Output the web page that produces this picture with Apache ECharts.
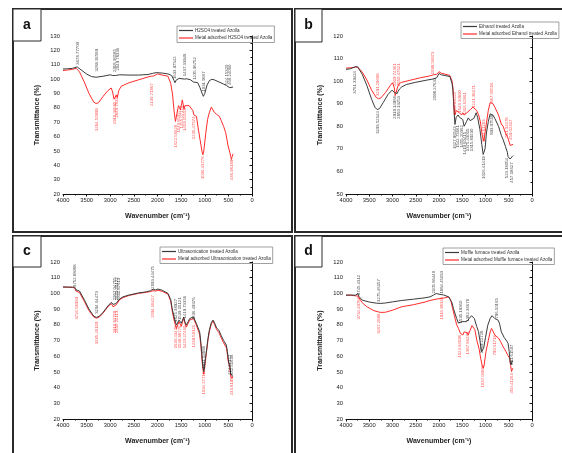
<!DOCTYPE html>
<html lang="en">
<head>
<meta charset="UTF-8">
<title>FTIR Azolla</title>
<script src="https://cdn.jsdelivr.net/npm/echarts@6/dist/echarts.min.js"></script>
<style>
  html, body { margin: 0; padding: 0; background: #fff; }
  #main { width: 562px; height: 453px; }
</style>
</head>
<body>
<div id="main"></div>
<script>
// spectra: [wavenumber, transmittance]
var aBlack = [[4000,107],[3900,107.2],[3800,107.5],[3700,108.5],[3680,108.7],[3620,106.5],[3500,103.5],[3400,101.8],[3300,101.3],[3150,102],[3000,103],[2950,102.5],[2920,101.5],[2890,102.5],[2850,101.8],[2800,103],[2600,102.8],[2400,102.8],[2200,103.2],[2100,104],[2030,104.5],[1900,104.2],[1780,103.6],[1700,102.5],[1650,99],[1630,97.5],[1600,99.5],[1540,100.5],[1500,99.5],[1430,100],[1380,100.2],[1300,99.5],[1240,98],[1200,99],[1150,97.5],[1100,94],[1050,89.5],[1030,88],[1000,90],[950,96],[900,99],[850,99.8],[800,99.5],[700,98],[600,96.5],[540,95.5],[520,94.5],[500,95.5],[470,94],[450,95],[430,94],[400,94.5]];
var aRed = [[4000,106],[3900,106.3],[3800,106.8],[3720,107.5],[3650,105],[3550,98],[3450,90],[3350,84],[3300,83],[3250,83.5],[3150,88],[3050,92],[2980,93.8],[2950,91],[2920,86],[2890,85.5],[2870,89],[2850,87],[2820,92],[2770,95],[2600,97.5],[2400,99.5],[2200,101.5],[2130,102],[2110,101.3],[2080,102.2],[2000,103.6],[1900,102.8],[1780,102],[1720,97],[1680,89],[1650,78],[1620,70.5],[1590,76],[1555,81.5],[1530,80],[1515,78.5],[1490,83],[1475,85.5],[1455,82],[1440,79],[1420,81.5],[1390,81.5],[1330,81.5],[1290,81],[1250,78],[1230,75],[1200,75.5],[1175,74],[1140,66],[1100,58],[1060,50],[1040,47.3],[1020,50],[980,62],[940,72],[900,77],[860,80.5],[830,79.5],[800,77],[750,75.5],[690,74],[650,71],[600,67],[560,63],[530,58],[510,54],[490,53.5],[470,49],[450,46],[437,44],[420,46],[400,48]];

var bBlack = [[4000,105.2],[3900,105.5],[3800,106.4],[3750,106.3],[3650,103],[3550,98],[3450,92],[3380,88.5],[3330,87.4],[3280,87.8],[3200,90.5],[3100,94],[3010,96],[2960,95],[2930,94.8],[2900,94.5],[2880,95.5],[2850,96.5],[2800,97.5],[2700,98.5],[2500,99.5],[2300,100.3],[2120,101],[2050,101.5],[2000,103.4],[1950,102.8],[1850,102.4],[1765,102],[1720,99],[1700,96],[1680,88],[1657,80.8],[1630,84],[1590,85],[1560,84],[1520,84.5],[1490,83],[1460,80],[1443,79.3],[1410,82],[1370,83.7],[1330,82.5],[1300,82.2],[1250,83.5],[1200,86],[1170,84],[1120,78.6],[1080,72],[1050,67.5],[1036,66.7],[1010,70],[980,77],[940,82],[900,85.5],[871,86],[840,85],[800,83.5],[764,83],[720,80],[660,76],[620,74],[570,71],[530,68.5],[514,66.5],[490,66],[470,65.5],[450,65],[430,66.5],[407,67]];
var bRed = [[4000,105.8],[3900,105.9],[3800,106.2],[3750,106.3],[3650,104],[3550,100.5],[3450,96],[3350,92.8],[3300,92.2],[3250,92.6],[3150,95],[3050,98],[3000,99.3],[2960,97],[2943,93.6],[2920,95],[2890,97.5],[2850,99],[2800,99.5],[2600,100.5],[2400,101.5],[2200,102.3],[2120,102.8],[2050,103],[2000,104.2],[1950,103.5],[1850,103],[1765,102.5],[1720,100],[1700,97],[1680,90],[1657,85],[1630,87],[1590,87.4],[1560,86],[1514,85],[1490,86],[1460,85],[1443,84.5],[1400,86],[1371,86.3],[1320,87.5],[1270,88.5],[1229,89.2],[1190,87],[1150,85.2],[1110,82],[1070,76],[1036,73.4],[1010,77],[979,81.5],[940,87],[900,90.5],[871,91],[840,90],[800,88.5],[764,88],[720,85],[660,81],[621,80],[570,77],[530,75.5],[514,74.9],[490,73],[470,71.5],[450,71],[430,71.5],[407,72]];

var cBlack = [[4000,104.1],[3900,104],[3800,104],[3753,104],[3726,102.3],[3700,103],[3650,101.5],[3550,96],[3450,90],[3350,85.5],[3294,84.7],[3230,85.5],[3150,88],[3050,92],[2977,94.3],[2940,93],[2910,92.1],[2880,93.5],[2850,94],[2800,96.5],[2730,97.8],[2600,99],[2400,100.3],[2236,101],[2150,101.7],[2095,102.7],[2040,102.2],[1990,102.8],[1900,102],[1778,100],[1720,96],[1690,90.4],[1650,85],[1600,79.8],[1570,81],[1545,83],[1520,82],[1495,81],[1470,83],[1445,85],[1420,82],[1390,79.8],[1350,82],[1320,84],[1280,84.5],[1240,85],[1213,85],[1180,81],[1140,78],[1108,75.6],[1080,68],[1050,57],[1023,50.2],[1000,55],[970,62],[931,71.4],[900,77],[860,81.5],[825,83],[790,81],[750,78],[700,76.5],[650,73],[600,70],[543,67.1],[520,63],[505,58.7],[490,56],[473,54.5],[450,49],[437,48],[420,47.5],[400,47]];
var cRed = [[4000,104],[3900,104],[3800,103.8],[3753,103.5],[3726,101.5],[3700,102.5],[3650,100.5],[3550,95],[3450,89],[3350,85],[3294,84.2],[3230,85],[3150,87.5],[3050,91.5],[2977,93.5],[2940,91.5],[2910,90.5],[2880,92.5],[2850,93.5],[2800,96],[2730,97.3],[2600,98.7],[2400,100],[2236,100.7],[2150,101.2],[2095,101.7],[2040,101.5],[1990,102],[1900,101.3],[1778,99.5],[1720,95],[1690,89],[1650,83],[1600,77.5],[1570,80],[1545,82],[1520,80.5],[1495,79],[1470,82],[1445,84],[1420,81],[1390,78.5],[1350,81],[1320,83],[1280,84],[1240,84],[1213,83.5],[1180,80],[1140,76.5],[1108,74],[1080,66],[1050,55],[1023,48.5],[1000,53],[970,61],[931,70.5],[900,76],[860,80.5],[825,82.5],[790,80],[750,77],[700,75],[650,71.5],[600,68.5],[543,65.5],[520,61],[505,57],[490,55],[473,53],[450,47.5],[437,46],[420,46.5],[400,46.5]];

var dBlack = [[4000,98.9],[3900,99],[3800,98.8],[3745,99.9],[3720,98],[3650,95.7],[3500,94.5],[3350,93.8],[3264,93.6],[3150,93.9],[3000,94.6],[2800,95.5],[2550,96.3],[2300,97.2],[2193,97.8],[2120,98.9],[2060,99.9],[2000,99.5],[1960,100],[1900,99],[1793,97.8],[1720,94],[1690,90.4],[1620,84],[1580,81],[1550,79.8],[1520,82],[1490,83],[1460,82],[1430,81.5],[1407,82],[1350,84],[1300,85.8],[1279,86.2],[1240,84],[1190,79],[1150,75.6],[1120,70],[1086,62.9],[1060,64],[1040,65],[1000,72],[950,79.8],[900,84],[860,85.8],[836,86.2],[800,84],[760,83],[730,83],[700,81],[660,75.6],[600,72],[540,69.5],[514,68.2],[490,63],[470,56],[450,54.5],[430,57],[407,56.6]];
var dRed = [[4000,98.9],[3900,98.8],[3800,98.5],[3745,98.3],[3720,97.2],[3650,94],[3550,91.5],[3400,89],[3264,87.9],[3150,88],[3000,89.3],[2800,91.5],[2550,92.8],[2300,94.5],[2193,95.5],[2050,96.4],[1900,97],[1793,97.8],[1750,96],[1690,88.3],[1620,80],[1580,77.7],[1540,74.5],[1486,73.5],[1460,75.5],[1430,76],[1400,75],[1371,73.5],[1330,76.5],[1290,79.5],[1264,79.8],[1230,77],[1180,69.3],[1140,65],[1100,58],[1070,54],[1050,52.3],[1030,54],[990,62.9],[940,70],[900,75.5],[871,77.7],[840,76],[800,73.5],[760,72.4],[720,71.5],[680,69.5],[620,66],[560,63],[520,60.5],[479,58.7],[460,54],[440,50.2],[420,52],[407,52.5]];

// peak annotations: [wavenumber, anchor transmittance, text]
var aBlackPeaks = [[3678,110,'3678.77709'],[3288,105.2,'3288.92589'],[2905,105,'2918.36585'],[2835,106,'2849.78336'],[1633,100,'1633.97542'],[1425,102,'1437.33948'],[1213,99.5,'1235.96752'],[1023,91.3,'1031.9667'],[540,96,'524.15320'],[470,96,'468.24060']];
var aRedPeaks = [[3290,79.7,'3284.50999'],[2905,84.4,'2918.36585'],[2860,89,'2849.78336'],[2130,97,'2130.71867'],[1620,68.2,'1622.56628'],[1552,78.6,'1540.85927'],[1488,81.4,'1455.07174'],[1425,79.7,'1419.15553'],[1235,74,'1235.47574'],[1044,46.2,'1036.43778'],[430,43.8,'436.96189']];

var bBlackPeaks = [[3821,104.5,'3761.39424'],[3314,86.7,'3293.52144'],[2943,93.4,'2919.14968'],[2871,93.4,'2850.13253'],[2086,101.5,'2098.27633'],[1650,80,'1627.96543'],[1586,80.5,'1542.73661'],[1514,80.5,'1455.20362'],[1443,77.5,'1419.60415'],[1371,79,'1375.43015'],[1300,79,'1315.89230'],[1036,66.7,'1026.41419'],[871,85.2,'893.97518'],[550,66,'523.18054'],[443,64,'457.18627']];
var bRedPeaks = [[3314,93.4,'3291.29688'],[2943,97.8,'2919.74361'],[2871,97.8,'2850.47621'],[2130,103,'2099.56873'],[1650,85,'1629.83553'],[1543,86,'1543.30890'],[1443,85,'1416.62861'],[1243,88.2,'1241.38171'],[1036,73,'1031.61283'],[864,90.4,'887.06556'],[550,75,'551.32478'],[457,74,'459.02317']];

var cBlackPeaks = [[3753,104.1,'3752.88088'],[3288,87,'3294.64473'],[2906,95.7,'2917.04755'],[2857,95.7,'2849.40122'],[2815,95.7,'2811.87613'],[2095,103,'2093.44475'],[1622,82,'1625.38927'],[1531,83,'1539.15121'],[1425,84,'1419.73356'],[1228,83,'1236.49376'],[1023,52,'1031.04888'],[473,48,'474.37127'],[423,48,'432.51638']];
var cRedPeaks = [[3703,97.8,'3726.58939'],[3288,82,'3285.40109'],[2906,89,'2918.83758'],[2857,89,'2850.24113'],[2095,98.9,'2094.68427'],[1622,79.5,'1630.43471'],[1531,79.5,'1538.88776'],[1425,79.5,'1420.27460'],[1228,80,'1239.50121'],[1023,50,'1034.27712'],[430,48,'433.81957']];

var dBlackPeaks = [[3714,98.9,'3745.4312'],[3300,94.6,'3275.46157'],[2107,99.9,'2105.86440'],[1929,99.9,'1884.45033'],[1529,80.9,'1535.19360'],[1371,82,'1382.36678'],[1086,61.9,'1059.22728'],[764,84,'796.10165'],[443,54.5,'431.61507']];
var dRedPeaks = [[3714,97.8,'3734.49786'],[3300,87.2,'3267.2888'],[1929,97.8,'1916.98336'],[1550,73.5,'1523.66598'],[1386,75.6,'1387.86288'],[1050,54.5,'1037.03862'],[800,73.5,'790.61718'],[436,49.2,'450.41263']];

var panelLetters = ['a', 'b', 'c', 'd'];
var blackNames = ['H2SO4 treated Azolla', 'Ethanol treated Azolla', 'Ultrasonication treated Azolla', 'Muffle furnace treated Azolla'];
var redNames = ['Metal adsorbed H2SO4 treated Azolla', 'Metal adsorbed Ethanol treated Azolla', 'Metal adsorbed Ultrasonication treated Azolla', 'Metal adsorbed Muffle furnace treated Azolla'];
var yMins = [20, 50, 20, 20];
var yMaxs = [130, 120, 120, 120];

var BLACK = '#3b3b3b', RED = '#ff2b2b';
var FONT = 'Arial, "Liberation Sans", sans-serif';

var grids = [
    {left: 63, top: 36, width: 189, height: 158},
    {left: 346, top: 36, width: 186, height: 158},
    {left: 63, top: 262, width: 189, height: 157},
    {left: 346, top: 262, width: 186, height: 157}
];
var legendPos = [[177, 26], [461, 22], [160, 247], [443, 248]];
var frames = [[13, 9, 279, 223], [295, 9, 275, 223], [13, 236, 279, 230], [295, 236, 275, 230]];
var letterBoxes = [[13, 9, 28, 32], [295, 9, 27, 33], [13, 236, 28, 31], [295, 236, 27, 31]];

var allBlack = [aBlack, bBlack, cBlack, dBlack];
var allRed = [aRed, bRed, cRed, dRed];
var allBlackPeaks = [aBlackPeaks, bBlackPeaks, cBlackPeaks, dBlackPeaks];
var allRedPeaks = [aRedPeaks, bRedPeaks, cRedPeaks, dRedPeaks];
// panel b has red labels above and black below, the others the other way
var blackAbove = [true, false, true, true];

var myChart = echarts.init(document.getElementById('main'), null, {renderer: 'canvas'});

var xAxes = [], yAxes = [], series = [], legends = [], graphics = [];

function peakSeries(i, peaks, color, above) {
    return {
        type: 'scatter',
        xAxisIndex: i,
        yAxisIndex: i,
        symbolSize: 0,
        silent: true,
        z: 5,
        data: peaks.map(function (p) { return {value: [p[0], p[1]], name: p[2]}; }),
        label: {
            show: true,
            position: 'inside',
            rotate: 90,
            align: above ? 'left' : 'right',
            verticalAlign: 'middle',
            formatter: '{b}',
            fontSize: 4.3,
            fontFamily: FONT,
            color: color
        }
    };
}

for (var i = 0; i < 4; i++) {
    xAxes.push({
        gridIndex: i,
        type: 'value',
        inverse: true,
        min: 0,
        max: 4000,
        interval: 500,
        name: 'Wavenumber (cm\u207B\u00B9)',
        nameLocation: 'middle',
        nameGap: 19,
        nameTextStyle: {fontSize: 7, fontWeight: 'bold', color: '#222', fontFamily: FONT},
        axisLine: {lineStyle: {color: '#111', width: 1}},
        axisTick: {length: 2.5, lineStyle: {color: '#111'}},
        minorTick: {show: true, splitNumber: 2, length: 1.5, lineStyle: {color: '#111'}},
        axisLabel: {fontSize: 5.8, color: '#222', margin: 3, fontFamily: FONT,
            formatter: function (v) { return String(v); }},
        splitLine: {show: false}
    });
    yAxes.push({
        gridIndex: i,
        type: 'value',
        min: yMins[i],
        max: yMaxs[i],
        interval: 10,
        name: 'Transmittance (%)',
        nameLocation: 'middle',
        nameGap: 22,
        nameTextStyle: {fontSize: 7, fontWeight: 'bold', color: '#222', fontFamily: FONT},
        axisLine: {show: true, lineStyle: {color: '#111', width: 1}},
        axisTick: {show: true, length: 2.5, lineStyle: {color: '#111'}},
        minorTick: {show: true, splitNumber: 2, length: 1.5, lineStyle: {color: '#111'}},
        axisLabel: {fontSize: 5.8, color: '#222', margin: 3, fontFamily: FONT},
        splitLine: {show: false}
    });
    series.push({
        name: blackNames[i],
        type: 'line',
        xAxisIndex: i,
        yAxisIndex: i,
        data: allBlack[i],
        symbol: 'none',
        lineStyle: {color: BLACK, width: 1},
        itemStyle: {color: BLACK},
        z: 3
    });
    series.push({
        name: redNames[i],
        type: 'line',
        xAxisIndex: i,
        yAxisIndex: i,
        data: allRed[i],
        symbol: 'none',
        lineStyle: {color: RED, width: 1},
        itemStyle: {color: RED},
        z: 2
    });
    series.push(peakSeries(i, allBlackPeaks[i], '#222', blackAbove[i]));
    series.push(peakSeries(i, allRedPeaks[i], RED, !blackAbove[i]));

    legends.push({
        data: [blackNames[i], redNames[i]],
        left: legendPos[i][0],
        top: legendPos[i][1],
        orient: 'vertical',
        icon: 'rect',
        itemWidth: 14,
        itemHeight: 1.2,
        itemGap: 2.5,
        padding: [2, 2, 2, 2],
        borderColor: '#888',
        borderWidth: 0.8,
        selectedMode: false,
        textStyle: {fontSize: 4.6, color: '#333', fontFamily: FONT, padding: [0, 0, 0, -3]}
    });

    var f = frames[i];
    graphics.push({
        type: 'rect',
        shape: {x: f[0], y: f[1], width: f[2], height: f[3]},
        style: {fill: null, stroke: '#2a2a2a', lineWidth: 2},
        z: 0
    });
    var b = letterBoxes[i];
    graphics.push({
        type: 'rect',
        shape: {x: b[0], y: b[1], width: b[2], height: b[3]},
        style: {fill: '#fff', stroke: '#2a2a2a', lineWidth: 1},
        z: 1
    });
    graphics.push({
        type: 'text',
        x: b[0] + b[2] / 2,
        y: b[1] + b[3] / 2,
        style: {text: panelLetters[i], font: 'bold 14px Arial, "Liberation Sans", sans-serif', fill: '#111', align: 'center', verticalAlign: 'middle'},
        z: 2
    });
}

var option = {
    backgroundColor: '#fff',
    animation: false,
    grid: grids,
    xAxis: xAxes,
    yAxis: yAxes,
    legend: legends,
    graphic: graphics,
    series: series
};
myChart.setOption(option);
</script>
</body>
</html>
